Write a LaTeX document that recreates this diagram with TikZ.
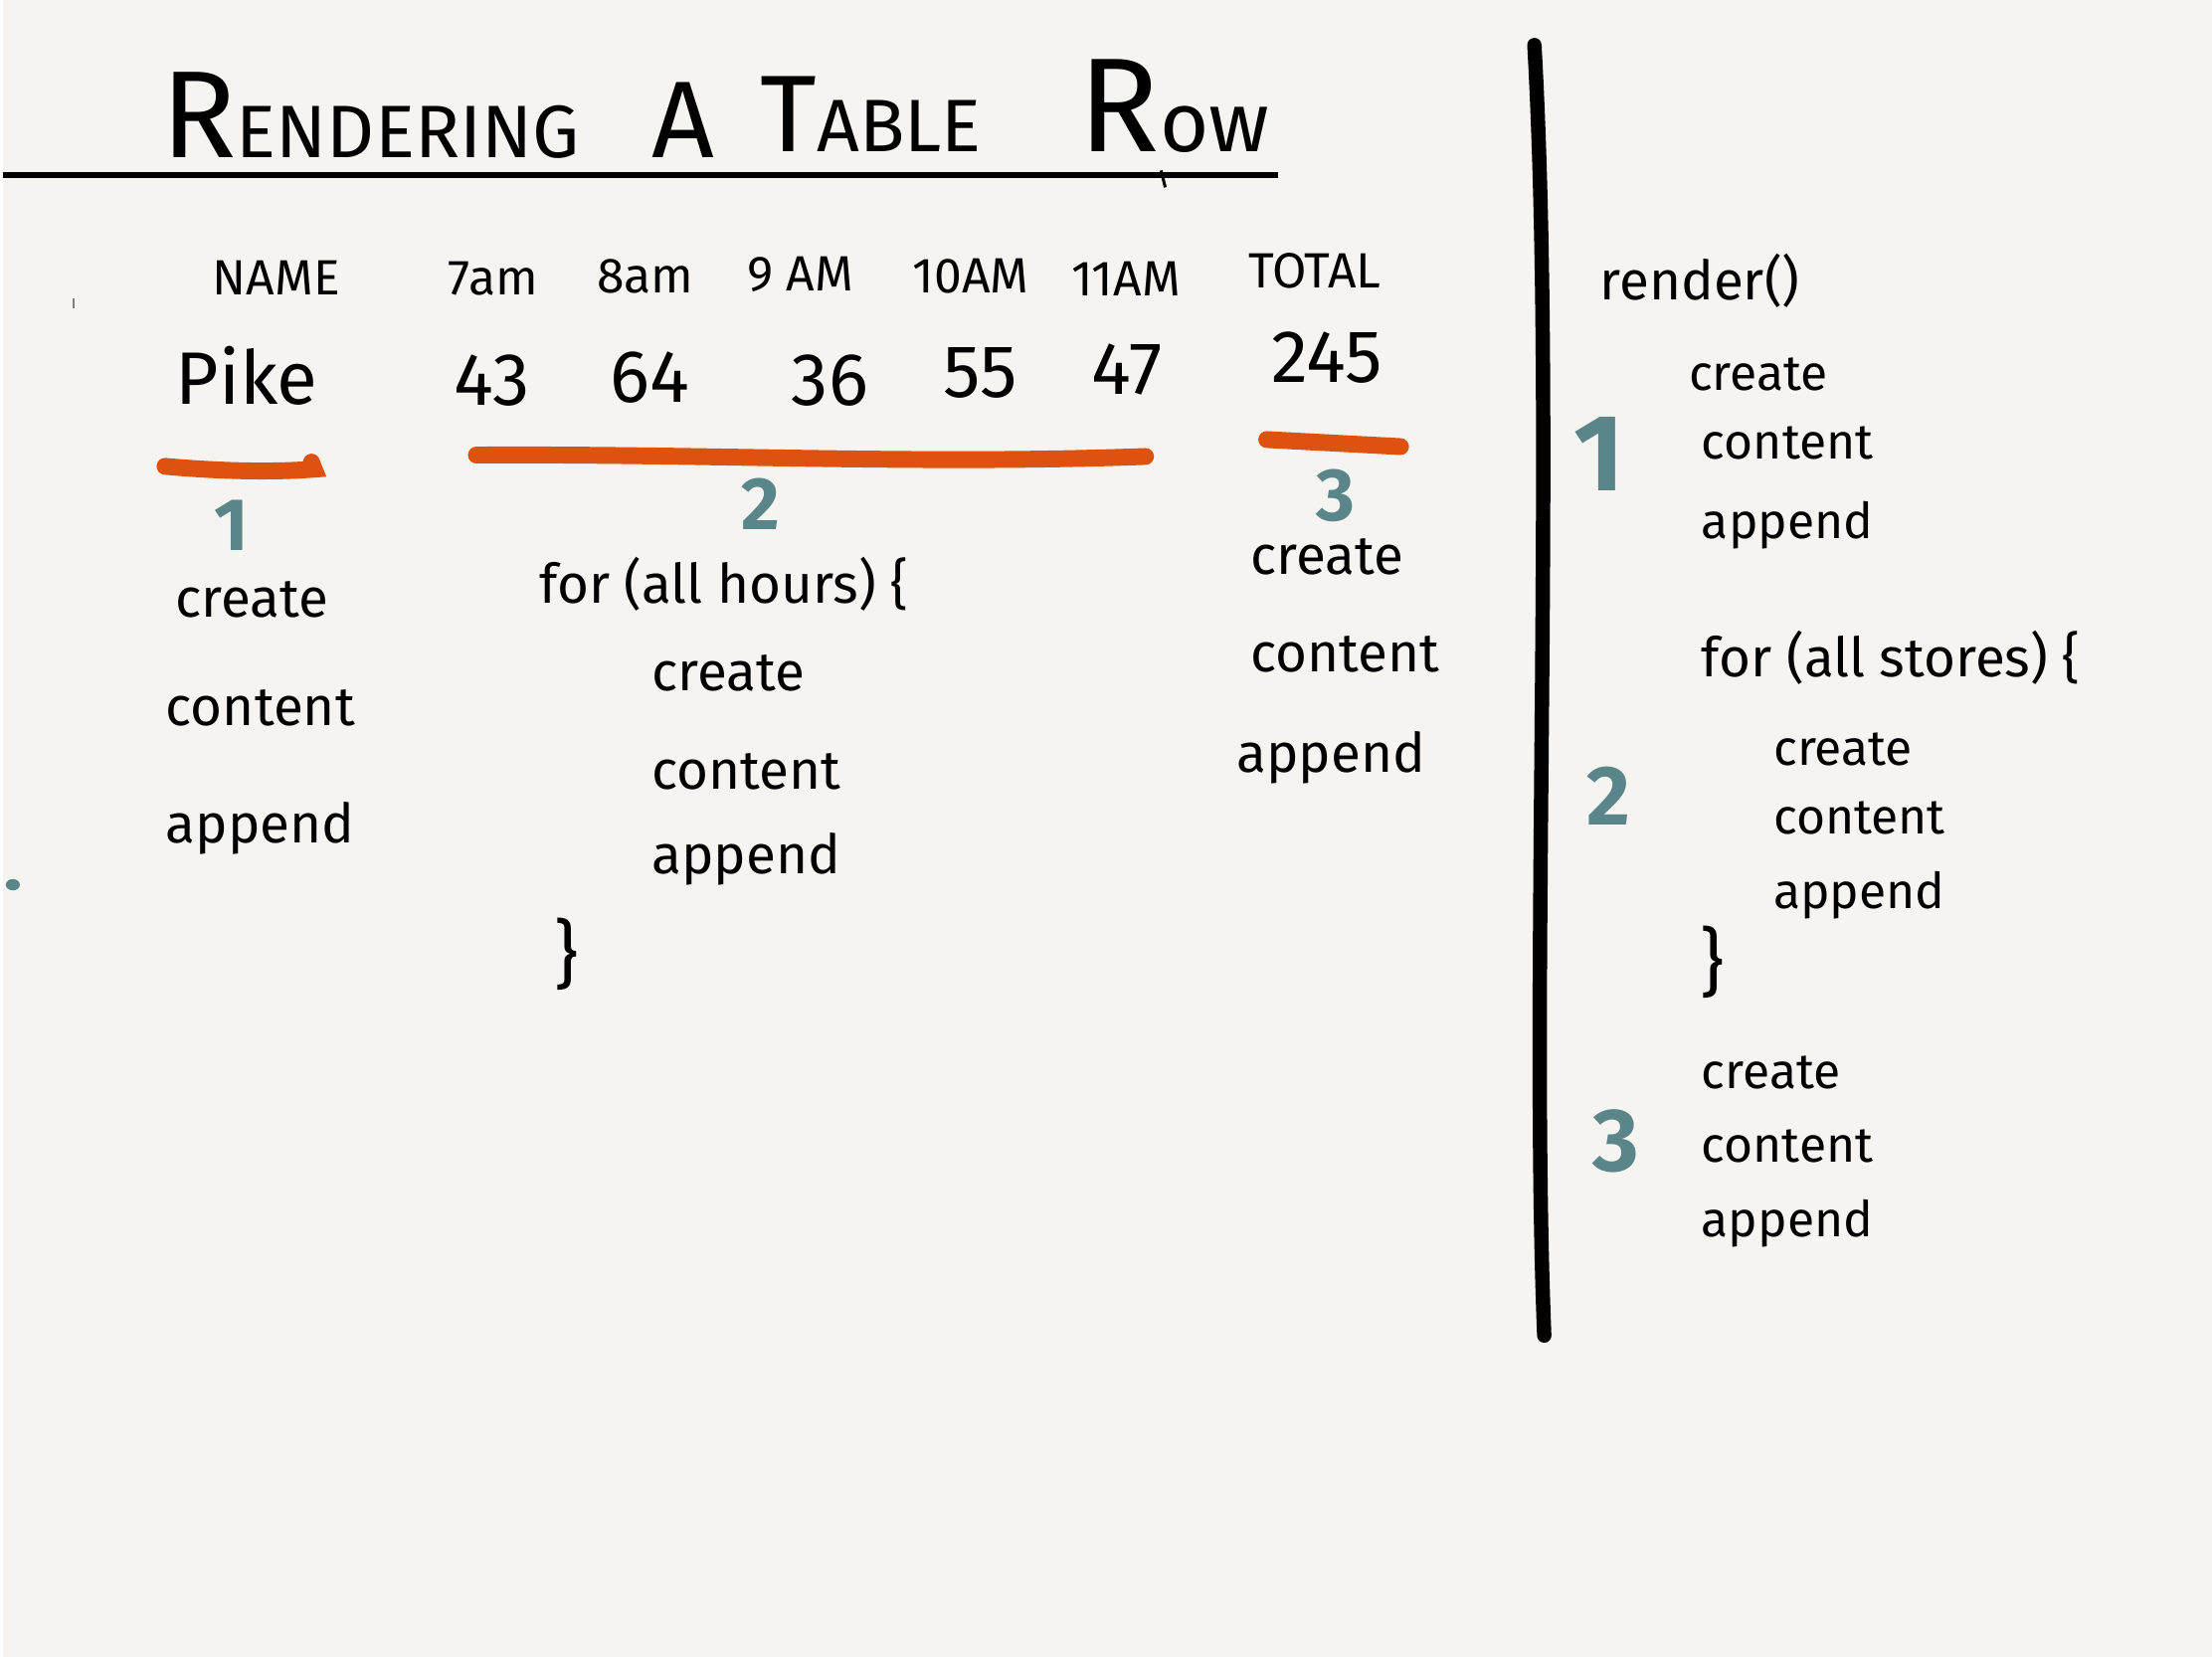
\documentclass[tikz,border=0pt]{standalone}
\usepackage{fontspec}
\setmainfont{Fira Sans}
\usepackage{xcolor}
\usetikzlibrary{positioning}

\definecolor{paper}{HTML}{F5F4F0}
\definecolor{marker}{HTML}{DE520F}
\definecolor{slate}{HTML}{5A868A}

\newcommand{\bigletter}[1]{{\fontsize{25}{30}\selectfont #1}}
\newcommand{\smallletters}[1]{{\fontsize{15}{18}\selectfont #1}}

\begin{document}
\begin{tikzpicture}[
    x=0.01cm, y=-0.01cm,
    word/.style={anchor=base west, inner sep=0pt, font=\fontsize{11}{13}\selectfont},
    sideword/.style={word, font=\fontsize{10}{12}\selectfont},
    head/.style={inner sep=0pt, font=\fontsize{10}{12}\selectfont},
    value/.style={inner sep=0pt, font=\fontsize{15}{18}\selectfont},
    tag/.style={inner sep=0pt, text=slate, font=\bfseries\fontsize{15}{18}\selectfont},
    titleword/.style={anchor=base west, inner sep=0pt},
    stroke/.style={marker, line width=3.4pt, line cap=round},
]
    % paper
    \fill[paper] (0,0) rectangle (1568,1176);

    % Title
    \node[titleword] (trendering) at (112,112) {\bigletter{R}\smallletters{ENDERING}};
    \node[titleword] (ta) at (460,112) {{\fontsize{22}{26}\selectfont A}};
    \node[titleword] (ttable) at (537,108) {{\fontsize{22}{26}\selectfont T}\smallletters{ABLE}};
    \node[titleword] (trow) at (763,108) {{\fontsize{27}{32}\selectfont R}{\fontsize{17}{20}\selectfont ow}};
    \draw[line width=1.2pt] (0,124) -- (905,124);
    \draw[line width=0.6pt] (822,121) -- (825,133);

    % Header row
    \node[head] (hname) at (194,197) {NAME};
    \node[head] (h7) at (348,198) {7am};
    \node[head] (h8) at (456,196) {8am};
    \node[head] (h9) at (566,195) {9 AM};
    \node[head] (h10) at (687,196) {10AM};
    \node[head] (h11) at (797,198) {11AM};
    \node[head] (htotal) at (931,192) {TOTAL};

    % Value row
    \node[value] (vpike) at (173,267) {Pike};
    \node[value] (v7) at (347,270) {43};
    \node[value] (v8) at (459,268) {64};
    \node[value] (v9) at (587,270) {36};
    \node[value] (v10) at (694,265) {55};
    \node[value] (v11) at (798,262) {47};
    \node[value] (vtotal) at (940,254) {245};

    % Underlines
    \draw[stroke] (115,331) .. controls (160,335) and (195,335) .. (221,333) -- (219,328);
    \draw[stroke] (336,323) .. controls (500,322) and (650,330) .. (811,324);
    \draw[stroke] (897,312) -- (992,317);

    % Part 1
    \node[tag] (n1) at (162,373) {1};
    \node[word] (c1create) at (122,438) {create};
    \node[word, below=0.77cm of c1create.base west, anchor=base west, xshift=-0.07cm] (c1content) {content};
    \node[word, below=0.83cm of c1content.base west, anchor=base west] (c1append) {append};

    % Part 2
    \node[tag] (n2) at (538,358) {2};
    \node[word] (c2for) at (380,428) {for (all hours) \{};
    \node[word, below=0.62cm of c2for.base west, anchor=base west, xshift=0.8cm] (c2create) {create};
    \node[word, below=0.7cm of c2create.base west, anchor=base west] (c2content) {content};
    \node[word, below=0.6cm of c2content.base west, anchor=base west] (c2append) {append};
    \node[value] (c2close) at (400,677) {\}};

    % Part 3
    \node[tag] (n3) at (946,352) {3};
    \node[word] (c3create) at (885,408) {create};
    \node[word, below=0.69cm of c3create.base west, anchor=base west] (c3content) {content};
    \node[word, below=0.71cm of c3content.base west, anchor=base west, xshift=-0.1cm] (c3append) {append};

    % Divider
    \draw[line width=2.9pt, line cap=round] (1087,32) .. controls (1102,300) and (1084,700) .. (1094,948);

    % render() side
    \node[word] (render) at (1133,213) {render()};
    \node[sideword, below=0.64cm of render.base west, anchor=base west, xshift=0.63cm] (r1create) {create};
    \node[sideword, below=0.49cm of r1create.base west, anchor=base west, xshift=0.09cm] (r1content) {content};
    \node[sideword, below=0.56cm of r1content.base west, anchor=base west] (r1append) {append};
    \node[tag, font=\bfseries\fontsize{22}{26}\selectfont] (r1) at (1133,322) {1};

    \node[word, below=0.98cm of r1append.base west, anchor=base west] (rfor) {for (all stores) \{};
    \node[sideword, below=0.63cm of rfor.base west, anchor=base west, xshift=0.51cm] (r2create) {create};
    \node[sideword, below=0.49cm of r2create.base west, anchor=base west] (r2content) {content};
    \node[sideword, below=0.53cm of r2content.base west, anchor=base west] (r2append) {append};
    \node[value] (rclose) at (1213,683) {\}};
    \node[tag, font=\bfseries\fontsize{17}{20}\selectfont] (r2) at (1140,565) {2};

    \node[sideword] (r3create) at (1205,773) {create};
    \node[sideword, below=0.52cm of r3create.base west, anchor=base west] (r3content) {content};
    \node[sideword, below=0.53cm of r3content.base west, anchor=base west] (r3append) {append};
    \node[tag, font=\bfseries\fontsize{18}{21}\selectfont] (r3) at (1145,810) {3};

    % stray marks
    \fill[slate] (7,628) ellipse (5 and 4);
    \draw[gray, line width=0.4pt] (50,212) -- (50,219);
\end{tikzpicture}
\end{document}
